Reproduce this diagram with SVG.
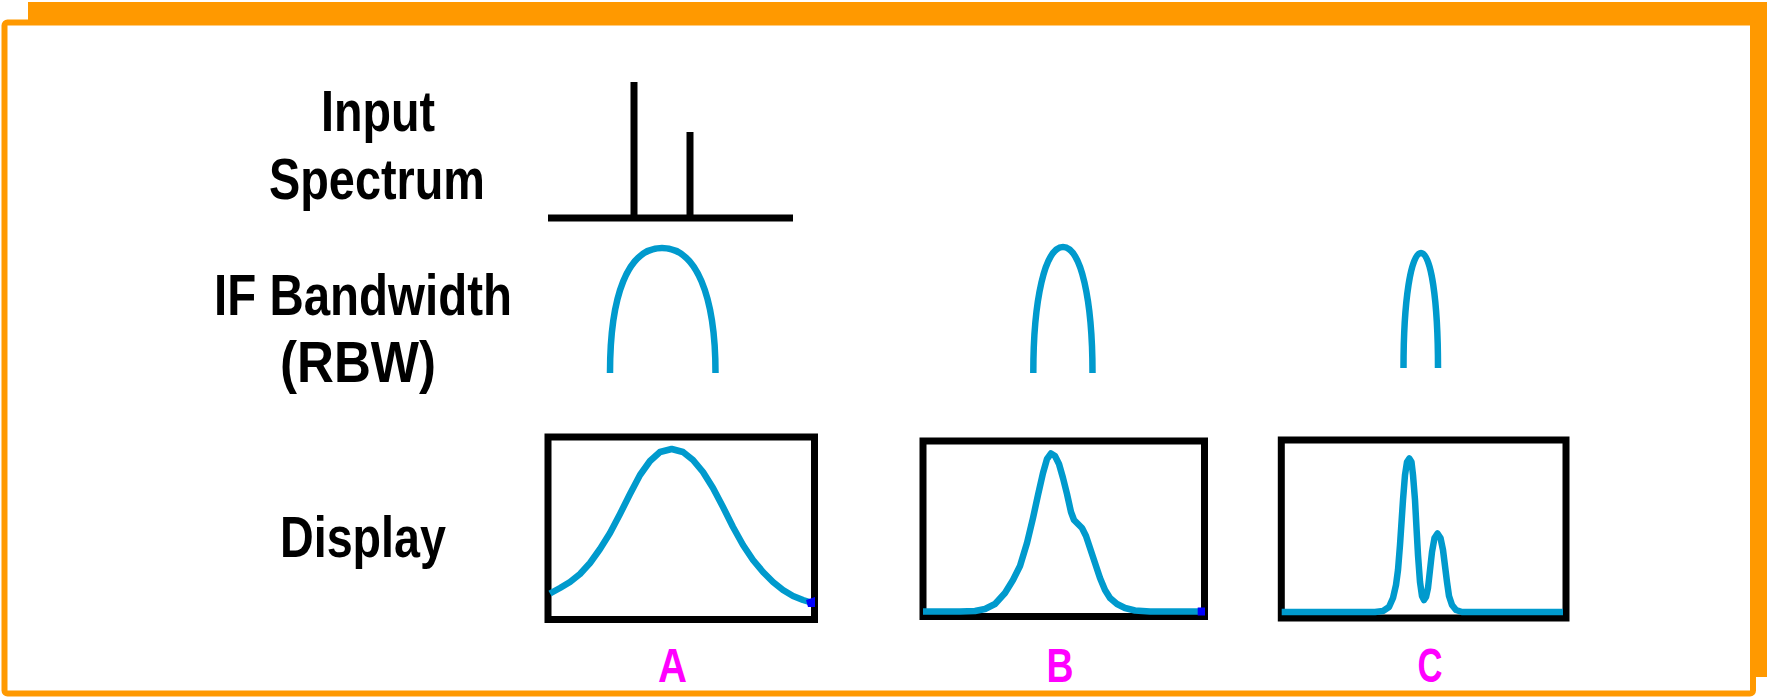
<svg xmlns="http://www.w3.org/2000/svg" width="1767" height="698" viewBox="0 0 1767 698">
<style>
.lbl{font-family:"Liberation Sans Narrow","Liberation Sans",Arial,sans-serif;font-weight:bold;font-size:58px;fill:#000}
.tag{font-family:"Liberation Sans Narrow","Liberation Sans",Arial,sans-serif;font-weight:bold;font-size:49px;fill:#FF00FF}
.box{fill:none;stroke:#000;stroke-width:7}
.ink{stroke:#000;stroke-width:7;fill:none}
.trace{fill:none;stroke:#009ACD;stroke-width:6.5;stroke-linejoin:round;stroke-linecap:butt}
.ifc{fill:none;stroke:#009ACD;stroke-width:6.5;stroke-linecap:butt}
</style>
<g id="frame">
<rect x="28" y="2" width="1760" height="675" fill="#FF9900"/>
<rect x="4.5" y="22.5" width="1748.5" height="671" rx="3" fill="#FFFFFF" stroke="#FF9900" stroke-width="6"/>
</g>
<g id="labels">
<text class="lbl" x="321" y="131" textLength="114" lengthAdjust="spacingAndGlyphs">Input</text>
<text class="lbl" x="269" y="199" textLength="216" lengthAdjust="spacingAndGlyphs">Spectrum</text>
<text class="lbl" x="214" y="315" textLength="298" lengthAdjust="spacingAndGlyphs">IF Bandwidth</text>
<text class="lbl" x="280" y="382" textLength="156" lengthAdjust="spacingAndGlyphs">(RBW)</text>
<text class="lbl" x="280" y="557" textLength="166" lengthAdjust="spacingAndGlyphs">Display</text>
</g>
<g id="input-spectrum">
<line class="ink" x1="548" y1="218" x2="793" y2="218" stroke-width="8"/>
<line class="ink" x1="634" y1="82" x2="634" y2="218" stroke-width="6.5"/>
<line class="ink" x1="690" y1="132" x2="690" y2="218" stroke-width="6.5"/>
</g>
<g id="if-A">
<path class="ifc" d="M610,373 C610,295 628,248 662,248 C696,248 715.5,295 715.5,373"/>
</g>
<g id="if-B">
<path class="ifc" d="M1033.3,373 C1033.3,300 1045,247 1063,247 C1081,247 1092.5,300 1092.5,373"/>
</g>
<g id="if-C">
<path class="ifc" d="M1403.5,368 C1403.5,300 1411,253 1421,253 C1431,253 1438,300 1438,368"/>
</g>
<g id="display-A">
<rect class="box" x="548" y="437" width="266.5" height="182.5"/>
<polyline class="trace" points="550,593.5 560,588 570,582 580,574 590,563 600,549 610,533 620,514 630,494 640,475 650,461 660,452 671.7,449 683,452 693,460 703,472 713,488 723,507 733,527 743,545 753,560 763,572 773,582 783,590 793,596 803,600 811,602.5"/>
<polygon points="806,600 815,597 815,607 808,607" fill="#0000FF"/>
</g>
<g id="display-B">
<rect class="box" x="923" y="441" width="281.5" height="175.5"/>
<polyline class="trace" points="923,611.5 960,611.5 975,611 985,609 995,604 1005,593 1013,580 1020,566 1027,543 1033,518 1038,495 1043,473 1047,459 1051,453.5 1055,456 1059,464 1063,478 1067,494 1071,512 1074,520 1078,524 1082,528 1086,536 1090,548 1095,563 1100,578 1105,590 1110,598 1117,604 1125,608 1135,610.5 1150,611.5 1201,611.5"/>
<rect x="1197.7" y="607.5" width="7.3" height="8" fill="#0000FF"/>
</g>
<g id="display-C">
<rect class="box" x="1281.3" y="440" width="284.7" height="178"/>
<polyline class="trace" points="1281.7,612 1375,612 1383,611 1389,607 1393,598 1396,585 1398,570 1400,545 1403,500 1405,475 1407,462 1409.3,458.5 1411.5,462 1413,475 1415,500 1416.5,528 1418,555 1420,582 1422,596 1424,600 1426,597 1428,588 1430,570 1432,552 1434.5,538 1437.5,533.5 1440.5,538 1443,550 1445,566 1447,582 1449,596 1452,605 1456,610 1462,612 1563,612"/>
</g>
<g id="tags">
<text class="tag" x="672.5" y="682" text-anchor="middle" textLength="29" lengthAdjust="spacingAndGlyphs">A</text>
<text class="tag" x="1060" y="682" text-anchor="middle" textLength="27" lengthAdjust="spacingAndGlyphs">B</text>
<text class="tag" x="1430" y="682" text-anchor="middle" textLength="25" lengthAdjust="spacingAndGlyphs">C</text>
</g>
<g id="connectors"/>
</svg>
